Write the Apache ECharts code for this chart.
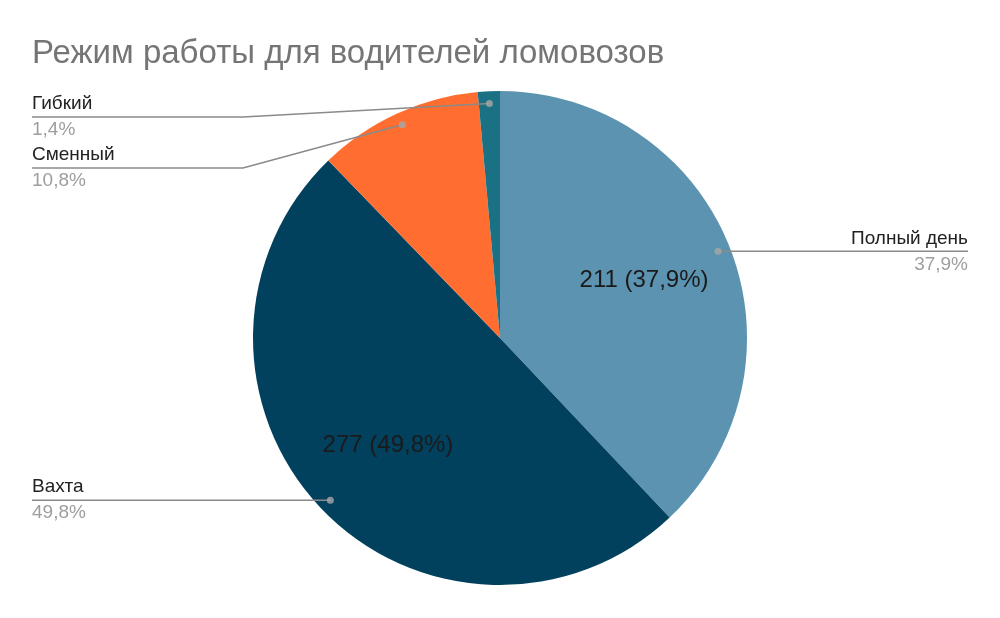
<!DOCTYPE html>
<html>
<head>
<meta charset="utf-8">
<script src="https://cdn.jsdelivr.net/npm/echarts@6/dist/echarts.min.js"></script>
<style>
html,body{margin:0;padding:0;background:#fff;}
#chart{width:1000px;height:618px;}
</style>
</head>
<body>
<div id="chart"></div>
<script>
// ---- data ----
const title = 'Режим работы для водителей ломовозов';
const categories = ['Полный день', 'Вахта', 'Сменный', 'Гибкий'];
const values = [211, 277, 60, 8];

// ---- styles / layout ----
const palette = ['#5b93b0', '#02415e', '#ff6e30', '#1b7184'];
const FONT = 'Liberation Sans, Arial, sans-serif';
const CX = 500, CY = 338, R = 247;
const DOT_FRAC = 0.95;
const LEFT_X = 32, RIGHT_X = 968;
const LEFT_BEND = 243, RIGHT_BEND = 757;
const TOP_MIN = 117, GAP = 51;

const total = values.reduce((a, b) => a + b, 0);
const pct = v => (v / total * 100).toFixed(1).replace('.', ',') + '%';

// mid-angle of each slice (clockwise from top), in value units
const mids = [];
let cum = 0;
values.forEach(v => { mids.push(cum + v / 2); cum += v; });

// label line geometry derived from the data
const geom = mids.map(m => {
  const a = m / total * Math.PI * 2;
  const x = CX + R * DOT_FRAC * Math.sin(a);
  const y = CY - R * DOT_FRAC * Math.cos(a);
  return { x, y, left: x < CX };
});
const labelY = new Array(values.length);
[true, false].forEach(side => {
  const idx = geom.map((g, i) => i).filter(i => geom[i].left === side)
    .sort((a, b) => geom[a].y - geom[b].y);
  let prev = -Infinity;
  idx.forEach(i => {
    const y = Math.max(geom[i].y, TOP_MIN, prev + GAP);
    labelY[i] = y;
    prev = y;
  });
});

const chart = echarts.init(document.getElementById('chart'), null, { renderer: 'canvas' });

const baseData = () => categories.map((c, i) => ({ name: c, value: values[i] }));

const option = {
  backgroundColor: '#ffffff',
  animation: false,
  title: {
    text: title,
    left: 32, top: 37, padding: 0,
    textStyle: { fontFamily: FONT, fontSize: 33, fontWeight: 'normal', color: '#757575' }
  },
  polar: { center: [CX, CY], radius: R },
  angleAxis: {
    type: 'value', min: 0, max: total, startAngle: 90, clockwise: true,
    show: false, splitLine: { show: false }, axisLine: { show: false }
  },
  radiusAxis: {
    type: 'value', min: 0, max: 1, show: false, splitLine: { show: false }, axisLine: { show: false }
  },
  series: [
    {
      // the slices
      type: 'pie',
      center: [CX, CY],
      radius: [0, R],
      startAngle: 90,
      clockwise: true,
      silent: true,
      z: 2,
      itemStyle: { borderWidth: 0 },
      emphasis: { disabled: true },
      data: categories.map((c, i) => ({ name: c, value: values[i], itemStyle: { color: palette[i] } })),
      label: { show: false },
      labelLine: { show: false }
    },
    {
      // value labels inside the big slices
      type: 'pie',
      center: [CX, CY],
      radius: [57, R],
      startAngle: 90,
      clockwise: true,
      silent: true,
      z: 3,
      itemStyle: { color: 'rgba(0,0,0,0)', borderWidth: 0 },
      emphasis: { disabled: true },
      data: categories.map((c, i) => ({
        name: c, value: values[i],
        label: { show: values[i] / total > 0.2 }
      })),
      label: {
        position: 'inside',
        formatter: p => p.value + ' (' + pct(p.value) + ')',
        fontFamily: FONT, fontSize: 24, color: '#1a1a1a'
      },
      labelLine: { show: false }
    },
    {
      // outside name / percent labels with leader lines
      type: 'pie',
      center: [CX, CY],
      radius: [0, R],
      startAngle: 90,
      clockwise: true,
      silent: true,
      z: 4,
      itemStyle: { color: 'rgba(0,0,0,0)', borderWidth: 0 },
      emphasis: { disabled: true },
      data: baseData(),
      label: {
        show: true,
        position: 'outside',
        formatter: p => '{n|' + p.name + '}\n{p|' + pct(p.value) + '}',
        rich: {
          n: { fontFamily: FONT, fontSize: 19, color: '#222222', lineHeight: 26 },
          p: { fontFamily: FONT, fontSize: 19, color: '#9e9e9e', lineHeight: 26 }
        }
      },
      labelLine: {
        show: true, length: 0, length2: 0, smooth: false,
        lineStyle: { color: '#8a8a8a', width: 1.5 }
      },
      labelLayout: function (params) {
        const i = params.dataIndex;
        const g = geom[i];
        const y = labelY[i];
        const start = [g.x, g.y];
        const bend = Math.abs(y - g.y) < 2 ? [g.x, y] : [g.left ? LEFT_BEND : RIGHT_BEND, y];
        const end = [g.left ? LEFT_X : RIGHT_X, y];
        return {
          x: g.left ? LEFT_X : RIGHT_X,
          y: y,
          align: g.left ? 'left' : 'right',
          verticalAlign: 'middle',
          labelLinePoints: [start, bend, end]
        };
      }
    },
    {
      // anchor dots
      type: 'scatter',
      coordinateSystem: 'polar',
      silent: true,
      z: 5,
      symbol: 'circle',
      symbolSize: 7,
      itemStyle: { color: '#a8a8a8' },
      data: mids.map(m => [DOT_FRAC, m])
    }
  ]
};
chart.setOption(option);
</script>
</body>
</html>
